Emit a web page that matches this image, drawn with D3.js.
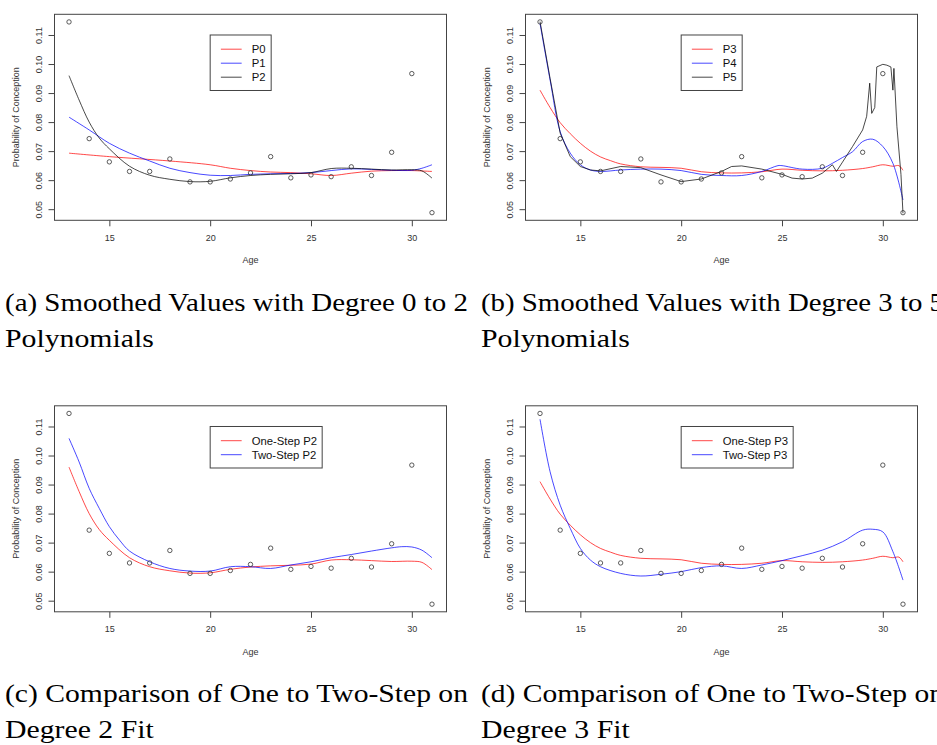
<!DOCTYPE html>
<html>
<head>
<meta charset="utf-8">
<script src="https://cdn.jsdelivr.net/npm/d3@7"></script>
<style>
  html, body { margin: 0; padding: 0; background: #fff; }
  svg { display: block; }
</style>
</head>
<body>
<svg id="chart" width="937" height="745"></svg>
<script>
// Observed probability of conception by age
const ages = [13,14,15,16,17,18,19,20,21,22,23,24,25,26,27,28,29,30,31];
const probs = [0.1145,0.0743,0.0663,0.0630,0.0630,0.0673,0.0594,0.0594,0.0604,0.0625,
               0.0681,0.0608,0.0618,0.0612,0.0646,0.0616,0.0696,0.0967,0.0488];

// Smoothed curves (age grid, fitted value)
const p0Age = [13,15,18,20,21,22,23,24,25,26,27,28,29,30,31];
const p0Val = [0.0693,0.0681,0.0666,0.0653,0.0641,0.0633,0.0628,0.0626,0.0622,0.0616,0.0624,0.0631,0.0633,0.0633,0.0630];

const p1Age = [13,14,15,16,17,18,19,20,21,22,23,24,25,26,27,28,29,30,30.5,31];
const p1Val = [0.0817,0.0773,0.0727,0.0693,0.0666,0.0641,0.0626,0.0617,0.0616,0.0620,
               0.0622,0.0623,0.0626,0.0633,0.0639,0.0637,0.0634,0.0634,0.0641,0.0653];

const p2Age = [13,13.5,14,14.5,15,16,17,18,19,20,21,22,23,24,25,26,27,28,29,30,30.5,31];
const p2Val = [0.0960,0.0876,0.0800,0.0745,0.0708,0.0648,0.0617,0.0603,0.0595,0.0596,0.0608,
               0.0616,0.0620,0.0622,0.0626,0.0640,0.0641,0.0638,0.0635,0.0636,0.0632,0.0607];

const p3Age = [13,13.5,14,14.5,15,15.5,16,16.5,17,18,19,20,21,22,23,24,25,26,27,28,29,29.5,30,30.5,30.8,31];
const p3Val = [0.0910,0.0850,0.0798,0.0760,0.0727,0.0700,0.0680,0.0667,0.0656,0.0646,0.0644,0.0641,0.0629,
               0.0625,0.0625,0.0629,0.0638,0.0634,0.0632,0.0634,0.0640,0.0646,0.0653,0.0648,0.0650,0.0634];

const p4Age = [13,13.5,14,14.5,15,15.5,16,17,18,19,20,21,22,23,24,24.8,25,26,27,27.5,28,28.5,29,29.5,30,30.5,31];
const p4Val = [0.1140,0.0945,0.0767,0.0693,0.0653,0.0635,0.0630,0.0635,0.0638,0.0638,0.0633,0.0620,0.0616,0.0616,
               0.0630,0.0650,0.0650,0.0638,0.0641,0.0658,0.0678,0.0698,0.0733,0.0741,0.0716,0.0658,0.0532];

const p5Age = [13,13.5,14,14.5,15,15.5,16,17,18,19,20,21,22,22.5,23,24,25,25.5,26,26.5,27,27.5,27.7,28,28.5,29,
               29.2,29.35,29.45,29.6,29.7,30,30.2,30.4,30.5,30.55,30.7,30.9,31];
const p5Val = [0.1146,0.0950,0.0762,0.0681,0.0647,0.0635,0.0632,0.0647,0.0643,0.0618,0.0595,0.0604,0.0630,0.0647,
               0.0649,0.0638,0.0620,0.0607,0.0604,0.0607,0.0624,0.0653,0.0630,0.0662,0.0716,0.0773,
               0.0820,0.0934,0.0830,0.0850,0.0990,0.0999,0.0996,0.0990,0.0910,0.0985,0.0784,0.0620,0.0486];

const twoP2Age = [13,13.5,14,14.5,15,15.5,16,17,18,19,20,21,22,23,24,25,26,27,28,29,29.5,30,30.5,31];
const twoP2Val = [0.1059,0.0978,0.0887,0.0818,0.0755,0.0709,0.0671,0.0634,0.0611,0.0602,0.0602,0.0617,
                  0.0617,0.0611,0.0623,0.0634,0.0648,0.0659,0.0671,0.0682,0.0686,0.0685,0.0674,0.0648];

const twoP3Age = [13,13.5,14,14.5,15,15.5,16,17,18,19,20,21,22,23,24,25,26,27,28,29,29.5,30,30.5,31];
const twoP3Val = [0.1125,0.0944,0.0829,0.0749,0.0680,0.0640,0.0617,0.0594,0.0585,0.0591,0.0600,0.0614,
                  0.0620,0.0611,0.0623,0.0638,0.0655,0.0674,0.0703,0.0743,0.0746,0.0737,0.0669,0.0571];

const xTicks = [15,20,25,30];
const yTicks = [0.05,0.06,0.07,0.08,0.09,0.10,0.11];
const yTickLabels = ["0.05","0.06","0.07","0.08","0.09","0.10","0.11"];

const captions = [
  ["(a) Smoothed Values with Degree 0 to 2", "Polynomials"],
  ["(b) Smoothed Values with Degree 3 to 5", "Polynomials"],
  ["(c) Comparison of One to Two-Step on", "Degree 2 Fit"],
  ["(d) Comparison of One to Two-Step on", "Degree 3 Fit"]
];

const RED = "#ff0000", BLUE = "#0000ff", BLACK = "#000000";

const panels = [
  { left: 54.5, top: 14.3, series: [
      { name: "P0", x: p0Age, y: p0Val, color: RED, smooth: true },
      { name: "P1", x: p1Age, y: p1Val, color: BLUE, smooth: true },
      { name: "P2", x: p2Age, y: p2Val, color: BLACK, smooth: true } ], legendW: 61 },
  { left: 525.5, top: 14.3, series: [
      { name: "P3", x: p3Age, y: p3Val, color: RED, smooth: true },
      { name: "P4", x: p4Age, y: p4Val, color: BLUE, smooth: true },
      { name: "P5", x: p5Age, y: p5Val, color: BLACK, smooth: false } ], legendW: 61 },
  { left: 54.5, top: 405.8, series: [
      { name: "One-Step P2", x: p2Age, y: p2Val, color: RED, smooth: true },
      { name: "Two-Step P2", x: twoP2Age, y: twoP2Val, color: BLUE, smooth: true } ], legendW: 112 },
  { left: 525.5, top: 405.8, series: [
      { name: "One-Step P3", x: p3Age, y: p3Val, color: RED, smooth: true },
      { name: "Two-Step P3", x: twoP3Age, y: twoP3Val, color: BLUE, smooth: true } ], legendW: 112 }
];

const W = 392, H = 206;
const svg = d3.select("#chart");
const AX = "#444";
const sans = "'Liberation Sans', Arial, sans-serif";
const serif = "'Liberation Serif', 'DejaVu Serif', serif";

// R-style axis range: data extent padded by 4% on each side
function padded(ext) { const r = ext[1] - ext[0]; return [ext[0] - 0.04 * r, ext[1] + 0.04 * r]; }

panels.forEach((p, i) => {
  const x = d3.scaleLinear().domain(padded(d3.extent(ages))).range([p.left, p.left + W]);
  const y = d3.scaleLinear().domain(padded(d3.extent(probs))).range([p.top + H, p.top]);
  const g = svg.append("g");

  const clipId = "clip" + i;
  svg.append("clipPath").attr("id", clipId).append("rect")
    .attr("x", p.left).attr("y", p.top).attr("width", W).attr("height", H);

  // curves
  const cg = g.append("g").attr("clip-path", `url(#${clipId})`);
  p.series.forEach(s => {
    const line = d3.line().x(d => x(d[0])).y(d => y(d[1]))
      .curve(s.smooth ? d3.curveCatmullRom.alpha(0.5) : d3.curveLinear);
    cg.append("path")
      .attr("d", line(s.x.map((a, k) => [a, s.y[k]])))
      .attr("fill", "none").attr("stroke", s.color)
      .attr("stroke-width", 0.9).attr("stroke-opacity", 0.8)
      .attr("stroke-linejoin", "round");
  });

  // observed points
  g.append("g").selectAll("circle").data(ages).join("circle")
    .attr("cx", d => x(d)).attr("cy", (d, k) => y(probs[k])).attr("r", 2.2)
    .attr("fill", "none").attr("stroke", "#333").attr("stroke-width", 0.8);

  // box
  g.append("rect").attr("x", p.left).attr("y", p.top).attr("width", W).attr("height", H)
    .attr("fill", "none").attr("stroke", AX).attr("stroke-width", 1);

  // x axis
  const xa = d3.axisBottom(x).tickValues(xTicks).tickSize(6).tickFormat(d3.format("d"));
  const xg = g.append("g").attr("transform", `translate(0,${p.top + H})`).call(xa);
  xg.select(".domain").remove();
  xg.selectAll("line").attr("stroke", AX);
  xg.selectAll("text").attr("font-family", sans).attr("font-size", 9).attr("fill", "#333")
    .attr("y", 14).attr("dy", "0.71em");

  // y axis with rotated labels
  const ya = d3.axisLeft(y).tickValues(yTicks).tickSize(6).tickFormat((d, k) => yTickLabels[k]);
  const yg = g.append("g").attr("transform", `translate(${p.left},0)`).call(ya);
  yg.select(".domain").remove();
  yg.selectAll("line").attr("stroke", AX);
  yg.selectAll("text").attr("font-family", sans).attr("font-size", 9).attr("fill", "#333")
    .attr("x", null).attr("dy", null)
    .attr("text-anchor", "middle")
    .attr("transform", "translate(-13,0) rotate(-90)");

  // axis titles
  g.append("text").attr("x", p.left + W / 2).attr("y", p.top + H + 43)
    .attr("text-anchor", "middle").attr("font-family", sans).attr("font-size", 9)
    .attr("fill", "#333").text("Age");
  g.append("text")
    .attr("transform", `translate(${p.left - 36},${p.top + H / 2}) rotate(-90)`)
    .attr("text-anchor", "middle").attr("font-family", sans).attr("font-size", 9)
    .attr("fill", "#333").text("Probability of Conception");

  // legend anchored at (20, 0.11)
  const lx = x(20), ly = y(0.11);
  const n = p.series.length;
  const lh = 14 * n + 13.5;
  const lg = g.append("g");
  lg.append("rect").attr("x", lx).attr("y", ly).attr("width", p.legendW).attr("height", lh)
    .attr("fill", "#fff").attr("stroke", AX).attr("stroke-width", 1);
  p.series.forEach((s, k) => {
    const ry = ly + 14.2 + 14 * k;
    lg.append("line").attr("x1", lx + 10.7).attr("x2", lx + 31.5).attr("y1", ry).attr("y2", ry)
      .attr("stroke", s.color).attr("stroke-width", 0.9).attr("stroke-opacity", 0.8);
    lg.append("text").attr("x", lx + 41.5).attr("y", ry).attr("dy", "0.36em")
      .attr("font-family", sans).attr("font-size", 11.3).attr("fill", "#111").text(s.name);
  });

  // caption
  const cx = (i % 2 === 0) ? 5 : 481;
  const cy = p.top + H + 90.5;
  g.append("text").attr("x", cx).attr("y", cy)
    .attr("font-family", serif).attr("font-size", 25).attr("fill", "#000")
    .attr("textLength", 463).attr("lengthAdjust", "spacingAndGlyphs")
    .text(captions[i][0]);
  const t2 = g.append("text").attr("x", cx).attr("y", cy + 36)
    .attr("font-family", serif).attr("font-size", 25).attr("fill", "#000")
    .text(captions[i][1]);
  const w2 = t2.node().getComputedTextLength();
  t2.attr("textLength", w2 * 1.19).attr("lengthAdjust", "spacingAndGlyphs");
});
</script>
</body>
</html>
